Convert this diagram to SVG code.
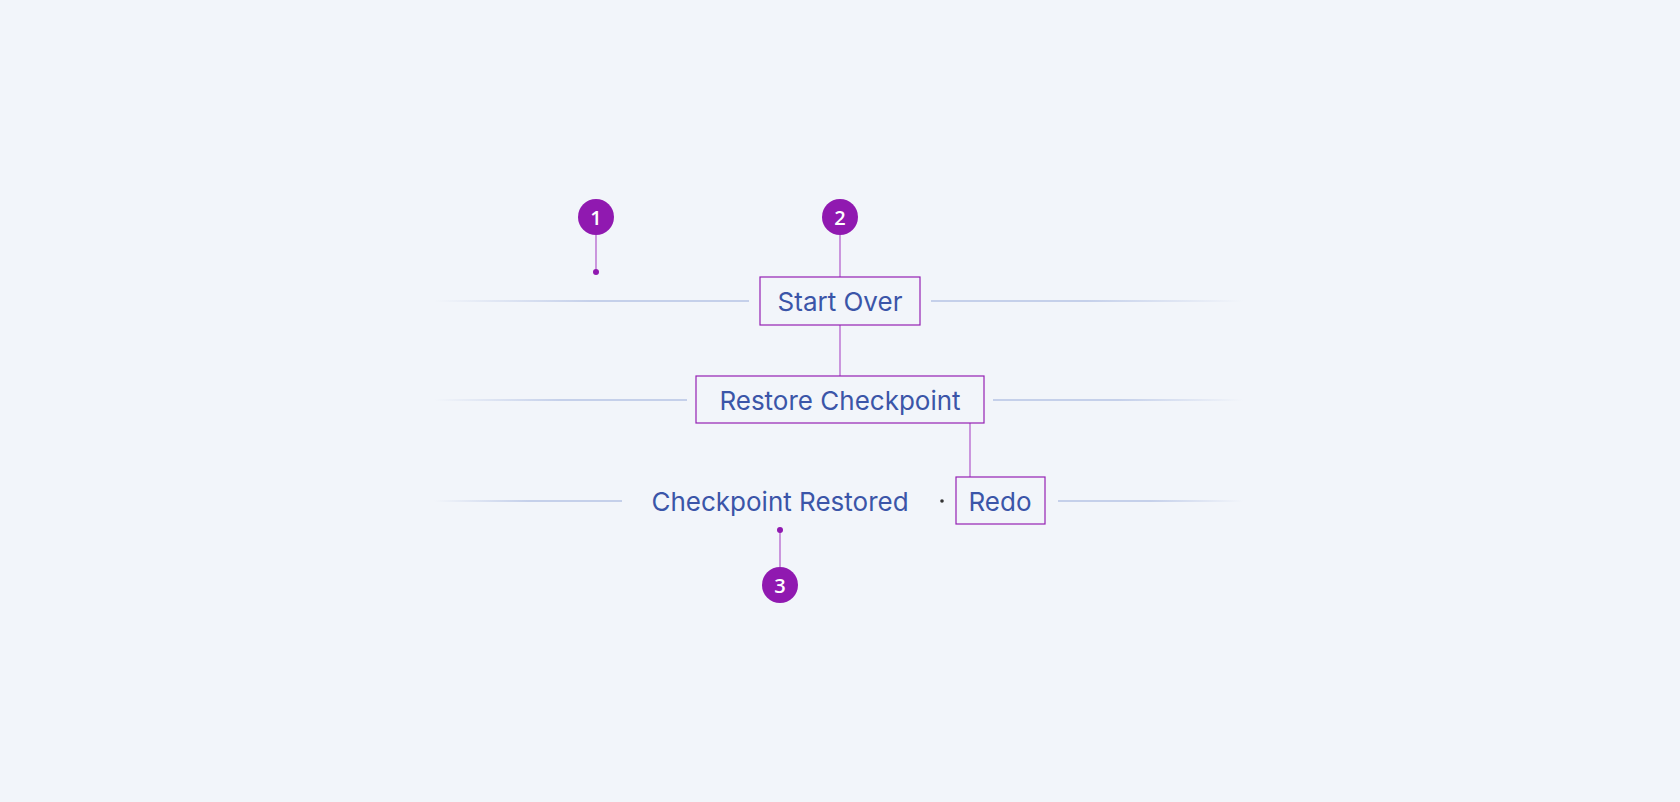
<svg xmlns="http://www.w3.org/2000/svg" width="1680" height="802" viewBox="0 0 1680 802">
<defs>
<linearGradient id="gl" x1="0" x2="1"><stop offset="0" stop-color="#c5d0ea" stop-opacity="0"/><stop offset="0.5" stop-color="#c5d0ea"/><stop offset="1" stop-color="#c5d0ea"/></linearGradient>
<linearGradient id="gr" x1="0" x2="1"><stop offset="0" stop-color="#c5d0ea"/><stop offset="0.5" stop-color="#c5d0ea"/><stop offset="1" stop-color="#c5d0ea" stop-opacity="0"/></linearGradient>
</defs>
<style>
.t{font-family:Inter,"Liberation Sans",sans-serif;font-size:26px;fill:#3b55a8;text-anchor:middle;dominant-baseline:central}
.box{fill:none;stroke:#9421b3;stroke-width:1.2}
.c{stroke:#c07ed6;stroke-width:1.6;fill:none}
.b{fill:#9019b0}
.bt{font-family:"Open Sans","Liberation Sans",sans-serif;font-size:20px;font-weight:600;fill:#fff;text-anchor:middle;dominant-baseline:central}
</style>
<rect width="1680" height="802" fill="#f2f5fa"/>
<g id="guides" stroke-width="2">
<rect x="434" y="300" width="315" height="2" fill="url(#gl)"/>
<rect x="931" y="300" width="312" height="2" fill="url(#gr)"/>
<rect x="434" y="399" width="253" height="2" fill="url(#gl)"/>
<rect x="993" y="399" width="250" height="2" fill="url(#gr)"/>
<rect x="434" y="500" width="188" height="2" fill="url(#gl)"/>
<rect x="1058" y="500" width="185" height="2" fill="url(#gr)"/>
</g>
<g id="connectors">
<line class="c" x1="596" y1="235" x2="596" y2="272"/>
<circle cx="596" cy="272" r="3" fill="#9019b0"/>
<line class="c" x1="840" y1="235" x2="840" y2="277"/>
<line class="c" x1="840" y1="325" x2="840" y2="376"/>
<line class="c" x1="970" y1="423" x2="970" y2="477"/>
<line class="c" x1="780" y1="530" x2="780" y2="567"/>
<circle cx="780" cy="530" r="3" fill="#9019b0"/>
</g>
<g id="start-over"><rect class="box" x="760" y="277" width="160" height="48"/><text class="t" x="840" y="301">Start Over</text></g>
<g id="restore-checkpoint"><rect class="box" x="696" y="376" width="288" height="47"/><text class="t" x="840" y="400">Restore Checkpoint</text></g>
<g id="checkpoint-restored"><text class="t" x="780" y="501">Checkpoint Restored</text><circle cx="942" cy="501" r="1.8" fill="#333"/></g>
<g id="redo"><rect class="box" x="956" y="477" width="89" height="47"/><text class="t" x="1000" y="501">Redo</text></g>
<g id="badge-1"><circle class="b" cx="596" cy="217" r="18"/><text class="bt" x="596" y="217">1</text></g>
<g id="badge-2"><circle class="b" cx="840" cy="217" r="18"/><text class="bt" x="840" y="217">2</text></g>
<g id="badge-3"><circle class="b" cx="780" cy="585" r="18"/><text class="bt" x="780" y="585">3</text></g>
</svg>
